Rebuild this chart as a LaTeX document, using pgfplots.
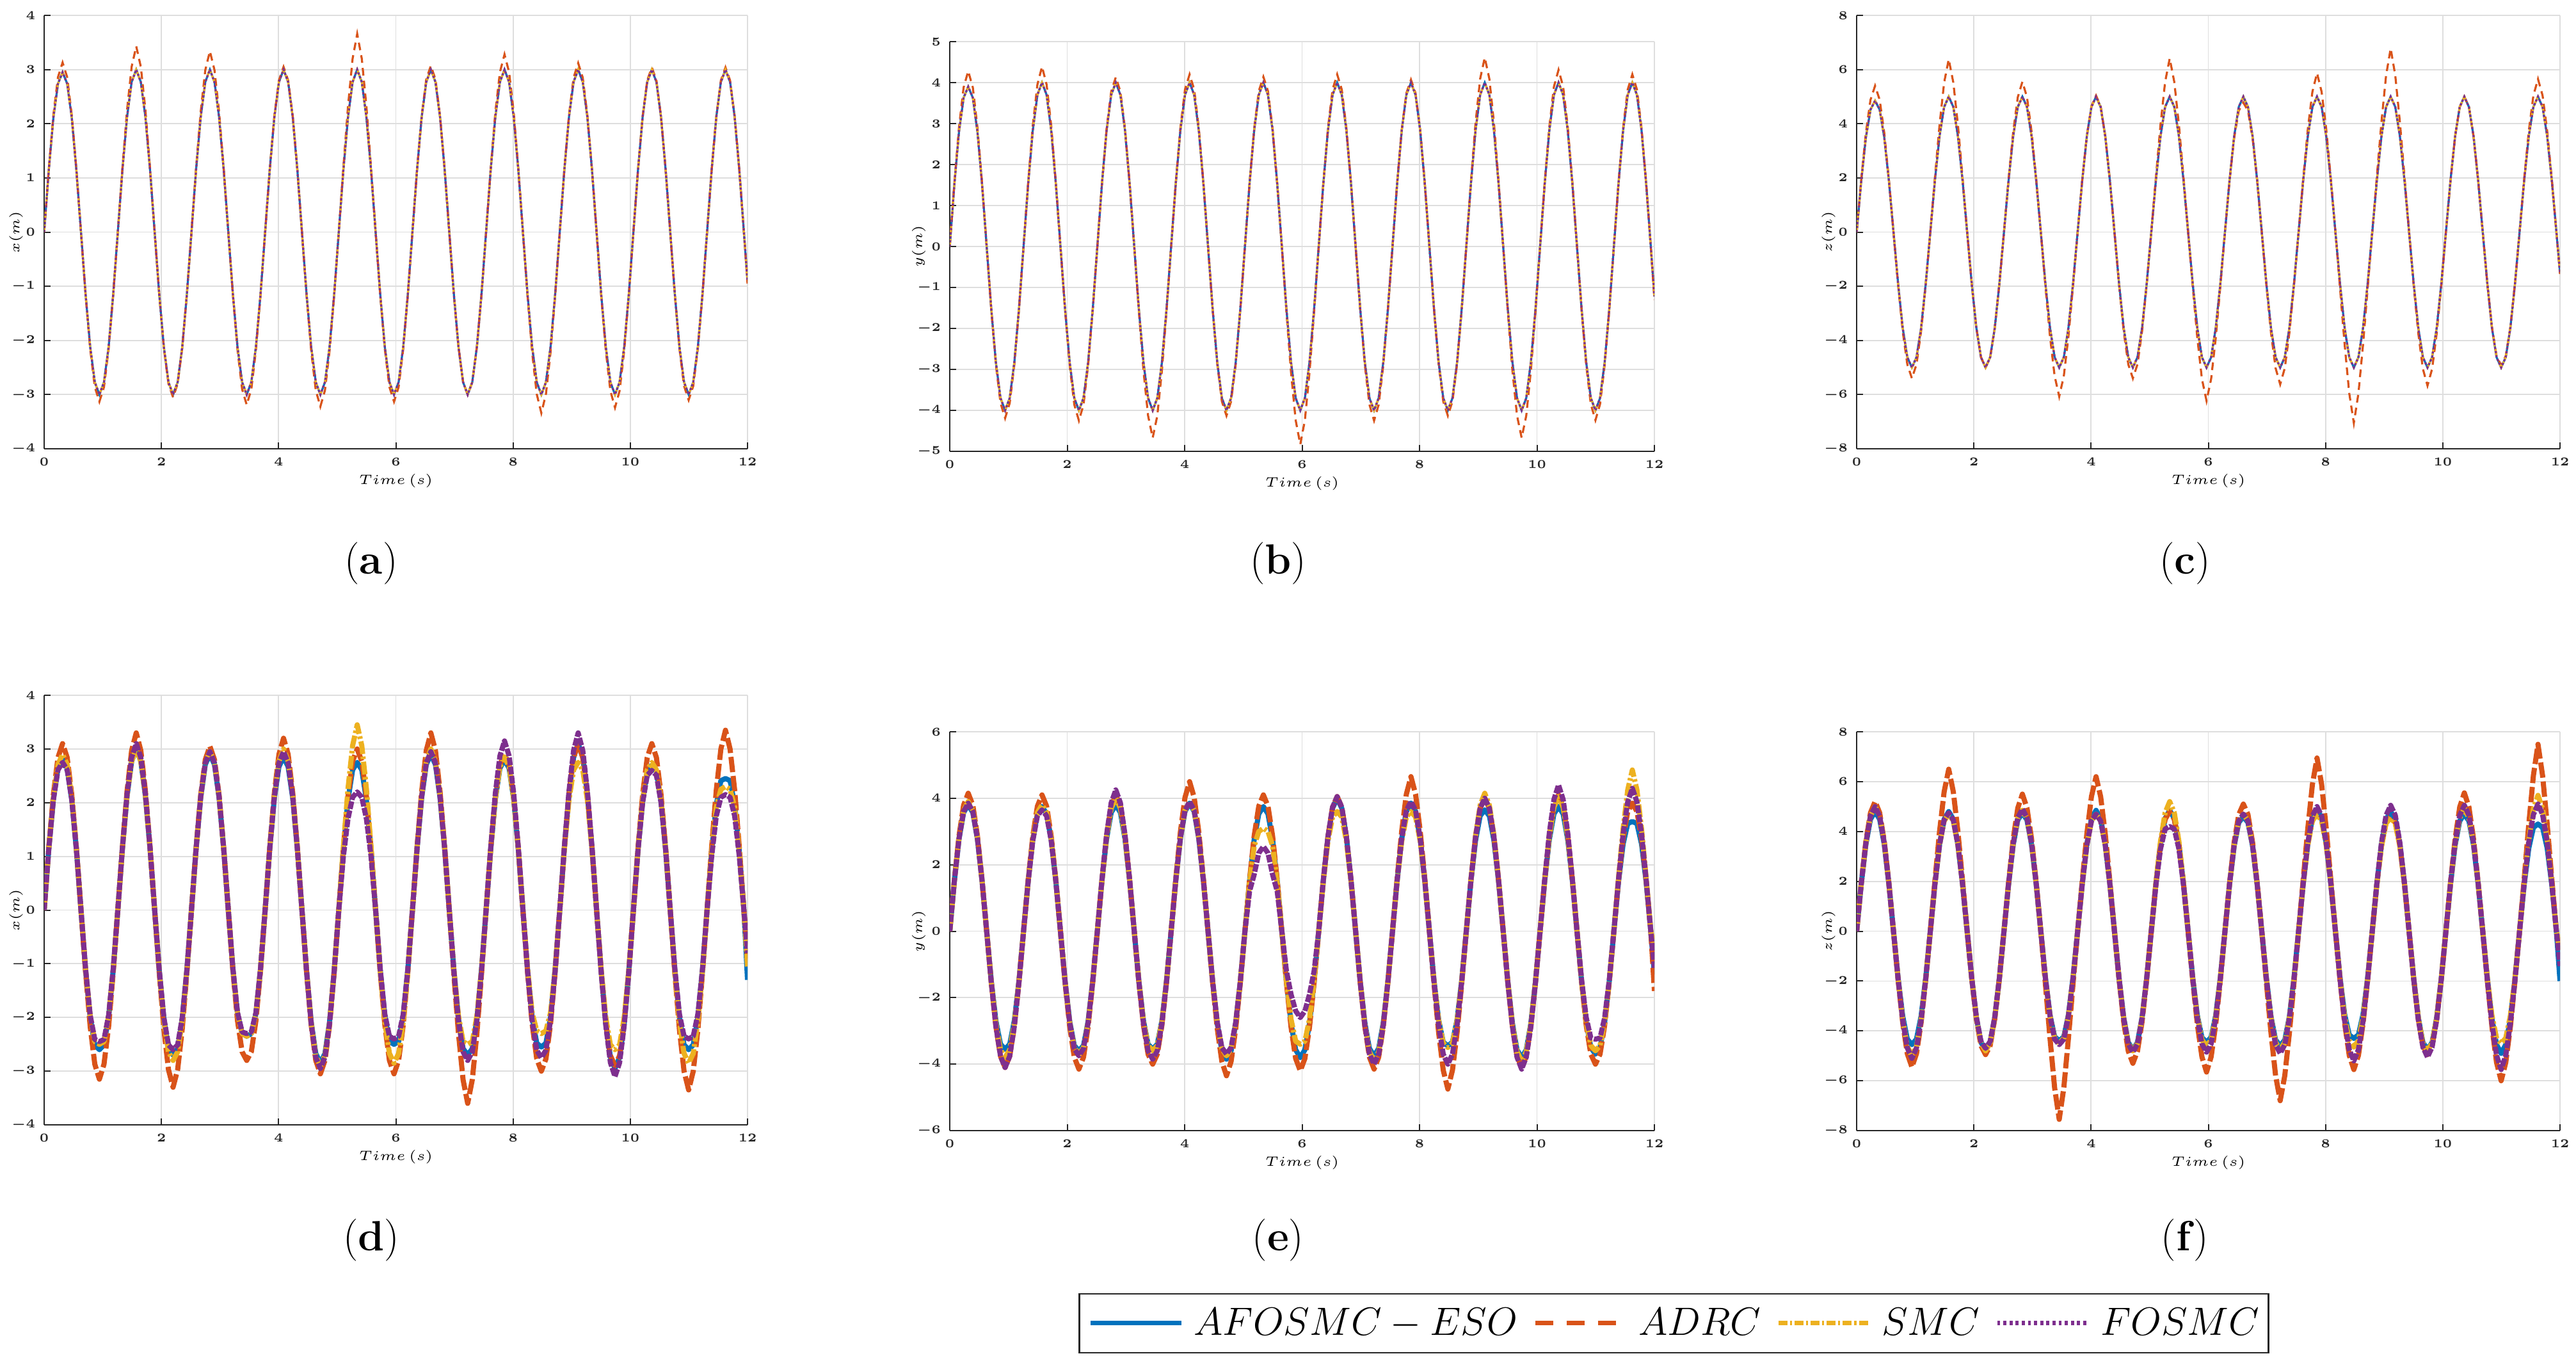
\RequirePackage{fix-cm}
\documentclass[border=0pt]{standalone}
\usepackage{pgfplots}
\usepackage{pgfplotstable}
\pgfplotsset{compat=1.18}
\definecolor{mblue}{rgb}{0,0.447,0.741}
\definecolor{mred}{rgb}{0.85,0.325,0.098}
\definecolor{myel}{rgb}{0.929,0.694,0.125}
\definecolor{mpur}{rgb}{0.494,0.184,0.556}
\definecolor{gridc}{rgb}{0.87,0.87,0.87}
\definecolor{axc}{rgb}{0.15,0.15,0.15}

\pgfplotstableread{
t ar aa br ba cr ca d1 d2 d3 d4 e1 e2 e3 e4 f1 f2 f3 f4
0 0 0 0 0 0 0 0 0 0 0 0 0 0 0 0 0 0 0
0.0785 1.14 1.16 1.52 1.55 1.90 1.95 1.13 1.16 1.14 1.13 1.52 1.54 1.52 1.52 1.90 1.93 1.91 1.91
0.1571 2.11 2.16 2.80 2.91 3.49 3.66 2.06 2.15 2.09 2.05 2.77 2.87 2.80 2.78 3.48 3.60 3.54 3.54
0.2356 2.74 2.86 3.63 3.88 4.52 4.88 2.64 2.84 2.71 2.61 3.57 3.79 3.63 3.60 4.49 4.75 4.62 4.62
0.3142 2.95 3.13 3.90 4.28 4.85 5.40 2.80 3.10 2.90 2.75 3.80 4.15 3.90 3.85 4.80 5.20 5.00 5.00
0.3927 2.74 2.86 3.63 3.88 4.52 4.88 2.64 2.84 2.71 2.61 3.57 3.79 3.63 3.60 4.49 4.75 4.62 4.62
0.4712 2.11 2.16 2.80 2.91 3.49 3.66 2.06 2.15 2.09 2.05 2.77 2.87 2.80 2.78 3.48 3.60 3.54 3.54
0.5498 1.14 1.16 1.52 1.55 1.90 1.95 1.13 1.16 1.14 1.13 1.52 1.54 1.52 1.52 1.90 1.93 1.91 1.91
0.6283 0 0 0 0 0 0 0 0 0 0 0 0 0 0 0 0 0 0
0.7069 -1.15 -1.16 -1.53 -1.55 -1.91 -1.95 -1.12 -1.16 -1.11 -1.10 -1.50 -1.54 -1.52 -1.54 -1.88 -1.95 -1.91 -1.92
0.7854 -2.12 -2.16 -2.83 -2.89 -3.54 -3.66 -2.00 -2.17 -1.97 -1.96 -2.69 -2.86 -2.77 -2.86 -3.40 -3.67 -3.54 -3.57
0.8639 -2.77 -2.86 -3.70 -3.82 -4.62 -4.88 -2.51 -2.87 -2.45 -2.41 -3.40 -3.76 -3.57 -3.76 -4.33 -4.91 -4.62 -4.68
0.9425 -3.00 -3.13 -4.00 -4.19 -5.00 -5.40 -2.60 -3.15 -2.50 -2.45 -3.55 -4.10 -3.80 -4.10 -4.55 -5.45 -5.00 -5.10
1.0210 -2.77 -2.86 -3.70 -3.82 -4.62 -4.88 -2.51 -2.87 -2.45 -2.41 -3.40 -3.76 -3.57 -3.76 -4.33 -4.91 -4.62 -4.68
1.0996 -2.12 -2.16 -2.83 -2.89 -3.54 -3.66 -2.00 -2.17 -1.97 -1.96 -2.69 -2.86 -2.77 -2.86 -3.40 -3.67 -3.54 -3.57
1.1781 -1.15 -1.16 -1.53 -1.55 -1.91 -1.95 -1.12 -1.16 -1.11 -1.10 -1.50 -1.54 -1.52 -1.54 -1.88 -1.95 -1.91 -1.92
1.2566 0 0 0 0 0 0 0 0 0 0 0 0 0 0 0 0 0 0
1.3352 1.15 1.18 1.53 1.56 1.91 2.02 1.15 1.17 1.15 1.16 1.51 1.54 1.52 1.50 1.90 2.03 1.89 1.89
1.4137 2.12 2.25 2.83 2.95 3.54 3.95 2.12 2.21 2.12 2.15 2.75 2.86 2.77 2.72 3.48 3.99 3.45 3.46
1.4923 2.77 3.05 3.70 3.95 4.62 5.52 2.77 2.97 2.77 2.84 3.53 3.76 3.57 3.47 4.49 5.59 4.42 4.46
1.5708 3.00 3.43 4.00 4.39 5.00 6.38 3.00 3.30 3.00 3.10 3.75 4.10 3.80 3.65 4.80 6.50 4.70 4.75
1.6493 2.77 3.05 3.70 3.95 4.62 5.52 2.77 2.97 2.77 2.84 3.53 3.76 3.57 3.47 4.49 5.59 4.42 4.46
1.7279 2.12 2.25 2.83 2.95 3.54 3.95 2.12 2.21 2.12 2.15 2.75 2.86 2.77 2.72 3.48 3.99 3.45 3.46
1.8064 1.15 1.18 1.53 1.56 1.91 2.02 1.15 1.17 1.15 1.16 1.51 1.54 1.52 1.50 1.90 2.03 1.89 1.89
1.8850 0 0 0 0 0 0 0 0 0 0 0 0 0 0 0 0 0 0
1.9635 -1.15 -1.15 -1.53 -1.55 -1.91 -1.91 -1.12 -1.17 -1.13 -1.12 -1.50 -1.54 -1.51 -1.51 -1.89 -1.91 -1.90 -1.89
2.0420 -2.12 -2.14 -2.83 -2.90 -3.54 -3.54 -2.03 -2.21 -2.06 -2.00 -2.71 -2.87 -2.74 -2.75 -3.46 -3.52 -3.48 -3.45
2.1206 -2.77 -2.80 -3.70 -3.86 -4.62 -4.62 -2.58 -2.97 -2.64 -2.51 -3.44 -3.79 -3.50 -3.53 -4.46 -4.59 -4.49 -4.42
2.1991 -3.00 -3.05 -4.00 -4.25 -5.00 -5.00 -2.70 -3.30 -2.80 -2.60 -3.60 -4.15 -3.70 -3.75 -4.75 -4.95 -4.80 -4.70
2.2777 -2.77 -2.80 -3.70 -3.86 -4.62 -4.62 -2.58 -2.97 -2.64 -2.51 -3.44 -3.79 -3.50 -3.53 -4.46 -4.59 -4.49 -4.42
2.3562 -2.12 -2.14 -2.83 -2.90 -3.54 -3.54 -2.03 -2.21 -2.06 -2.00 -2.71 -2.87 -2.74 -2.75 -3.46 -3.52 -3.48 -3.45
2.4347 -1.15 -1.15 -1.53 -1.55 -1.91 -1.91 -1.12 -1.17 -1.13 -1.12 -1.50 -1.54 -1.51 -1.51 -1.89 -1.91 -1.90 -1.89
2.5133 0 0 0 0 0 0 0 0 0 0 0 0 0 0 0 0 0 0
2.5918 1.15 1.18 1.53 1.54 1.91 1.96 1.14 1.15 1.14 1.14 1.52 1.54 1.53 1.55 1.89 1.95 1.90 1.91
2.6704 2.12 2.22 2.83 2.87 3.54 3.70 2.09 2.14 2.11 2.11 2.77 2.86 2.83 2.90 3.46 3.69 3.49 3.51
2.7489 2.77 2.99 3.70 3.78 4.62 4.98 2.71 2.80 2.74 2.74 3.57 3.76 3.70 3.86 4.46 4.94 4.52 4.55
2.8274 3.00 3.34 4.00 4.13 5.00 5.55 2.90 3.05 2.95 2.95 3.80 4.10 4.00 4.25 4.75 5.50 4.85 4.90
2.9060 2.77 2.99 3.70 3.78 4.62 4.98 2.71 2.80 2.74 2.74 3.57 3.76 3.70 3.86 4.46 4.94 4.52 4.55
2.9845 2.12 2.22 2.83 2.87 3.54 3.70 2.09 2.14 2.11 2.11 2.77 2.86 2.83 2.90 3.46 3.69 3.49 3.51
3.0631 1.15 1.18 1.53 1.54 1.91 1.96 1.14 1.15 1.14 1.14 1.52 1.54 1.53 1.55 1.89 1.95 1.90 1.91
3.1416 0 0 0 0 0 0 0 0 0 0 0 0 0 0 0 0 0 0
3.2201 -1.15 -1.16 -1.53 -1.58 -1.91 -2.00 -1.10 -1.13 -1.10 -1.09 -1.50 -1.53 -1.50 -1.52 -1.87 -2.12 -1.87 -1.88
3.2987 -2.12 -2.18 -2.83 -3.03 -3.54 -3.86 -1.93 -2.06 -1.93 -1.91 -2.69 -2.83 -2.71 -2.78 -3.36 -4.30 -3.39 -3.40
3.3772 -2.77 -2.90 -3.70 -4.13 -4.62 -5.31 -2.30 -2.64 -2.30 -2.27 -3.40 -3.70 -3.44 -3.60 -4.23 -6.28 -4.29 -4.33
3.4558 -3.00 -3.19 -4.00 -4.67 -5.00 -6.07 -2.35 -2.80 -2.35 -2.30 -3.55 -4.00 -3.60 -3.85 -4.40 -7.55 -4.50 -4.55
3.5343 -2.77 -2.90 -3.70 -4.13 -4.62 -5.31 -2.30 -2.64 -2.30 -2.27 -3.40 -3.70 -3.44 -3.60 -4.23 -6.28 -4.29 -4.33
3.6128 -2.12 -2.18 -2.83 -3.03 -3.54 -3.86 -1.93 -2.06 -1.93 -1.91 -2.69 -2.83 -2.71 -2.78 -3.36 -4.30 -3.39 -3.40
3.6914 -1.15 -1.16 -1.53 -1.58 -1.91 -2.00 -1.10 -1.13 -1.10 -1.09 -1.50 -1.53 -1.50 -1.52 -1.87 -2.12 -1.87 -1.88
3.7699 0 0 0 0 0 0 0 0 0 0 0 0 0 0 0 0 0 0
3.8485 1.15 1.15 1.53 1.55 1.91 1.92 1.14 1.16 1.15 1.14 1.52 1.57 1.52 1.52 1.90 2.01 1.89 1.89
3.9270 2.12 2.14 2.83 2.89 3.54 3.55 2.08 2.18 2.12 2.11 2.78 2.98 2.80 2.80 3.49 3.90 3.45 3.45
4.0055 2.77 2.80 3.70 3.83 4.62 4.65 2.67 2.90 2.77 2.74 3.60 4.02 3.63 3.63 4.52 5.40 4.42 4.42
4.0841 3.00 3.05 4.00 4.20 5.00 5.04 2.85 3.20 3.00 2.95 3.85 4.50 3.90 3.90 4.85 6.20 4.70 4.70
4.1626 2.77 2.80 3.70 3.83 4.62 4.65 2.67 2.90 2.77 2.74 3.60 4.02 3.63 3.63 4.52 5.40 4.42 4.42
4.2412 2.12 2.14 2.83 2.89 3.54 3.55 2.08 2.18 2.12 2.11 2.78 2.98 2.80 2.80 3.49 3.90 3.45 3.45
4.3197 1.15 1.15 1.53 1.55 1.91 1.92 1.14 1.16 1.15 1.14 1.52 1.57 1.52 1.52 1.90 2.01 1.89 1.89
4.3982 0 0 0 0 0 0 0 0 0 0 0 0 0 0 0 0 0 0
4.4768 -1.15 -1.17 -1.53 -1.54 -1.91 -1.95 -1.14 -1.15 -1.14 -1.14 -1.52 -1.56 -1.51 -1.51 -1.89 -1.94 -1.90 -1.90
4.5553 -2.12 -2.19 -2.83 -2.87 -3.54 -3.66 -2.08 -2.14 -2.09 -2.11 -2.78 -2.93 -2.75 -2.74 -3.46 -3.63 -3.48 -3.49
4.6339 -2.77 -2.92 -3.70 -3.78 -4.62 -4.88 -2.67 -2.80 -2.71 -2.74 -3.60 -3.92 -3.53 -3.50 -4.46 -4.81 -4.49 -4.52
4.7124 -3.00 -3.22 -4.00 -4.13 -5.00 -5.40 -2.85 -3.05 -2.90 -2.95 -3.85 -4.35 -3.75 -3.70 -4.75 -5.30 -4.80 -4.85
4.7909 -2.77 -2.92 -3.70 -3.78 -4.62 -4.88 -2.67 -2.80 -2.71 -2.74 -3.60 -3.92 -3.53 -3.50 -4.46 -4.81 -4.49 -4.52
4.8695 -2.12 -2.19 -2.83 -2.87 -3.54 -3.66 -2.08 -2.14 -2.09 -2.11 -2.78 -2.93 -2.75 -2.74 -3.46 -3.63 -3.48 -3.49
4.9480 -1.15 -1.17 -1.53 -1.54 -1.91 -1.95 -1.14 -1.15 -1.14 -1.14 -1.52 -1.56 -1.51 -1.51 -1.89 -1.94 -1.90 -1.90
5.0265 0 0 0 0 0 0 0 0 0 0 0 0 0 0 0 0 0 0
5.1051 1.15 1.20 1.53 1.54 1.91 2.03 1.13 1.15 1.18 1.00 1.51 1.54 1.46 1.20 1.90 1.90 1.93 1.85
5.1836 2.12 2.32 2.83 2.87 3.54 3.96 2.05 2.12 2.26 1.70 2.75 2.86 2.56 1.70 3.49 3.48 3.60 3.30
5.2622 2.77 3.20 3.70 3.79 4.62 5.54 2.61 2.77 3.06 2.10 3.53 3.76 3.00 2.35 4.52 4.49 4.75 4.10
5.3407 3.00 3.66 4.00 4.14 5.00 6.41 2.75 3.00 3.45 2.20 3.75 4.10 3.10 2.55 4.85 4.80 5.20 4.20
5.4192 2.77 3.20 3.70 3.79 4.62 5.54 2.61 2.77 3.06 2.10 3.53 3.76 3.00 2.35 4.52 4.49 4.75 4.10
5.4978 2.12 2.32 2.83 2.87 3.54 3.96 2.05 2.12 2.26 1.70 2.75 2.86 2.56 1.70 3.49 3.48 3.60 3.30
5.5763 1.15 1.20 1.53 1.54 1.91 2.03 1.13 1.15 1.18 1.00 1.51 1.54 1.46 1.20 1.90 1.90 1.93 1.85
5.6549 0 0 0 0 0 0 0 0 0 0 0 0 0 0 0 0 0 0
5.7334 -1.15 -1.16 -1.53 -1.60 -1.91 -2.01 -1.11 -1.15 -1.14 -1.10 -1.52 -1.55 -1.48 -1.20 -1.87 -1.97 -1.88 -1.90
5.8119 -2.12 -2.16 -2.83 -3.08 -3.54 -3.91 -1.97 -2.14 -2.08 -1.94 -2.77 -2.89 -2.65 -1.90 -3.37 -3.73 -3.42 -3.49
5.8905 -2.77 -2.86 -3.70 -4.24 -4.62 -5.42 -2.45 -2.80 -2.67 -2.35 -3.57 -3.83 -3.31 -2.40 -4.26 -5.04 -4.36 -4.52
5.9690 -3.00 -3.13 -4.00 -4.83 -5.00 -6.23 -2.50 -3.05 -2.85 -2.40 -3.80 -4.20 -3.40 -2.60 -4.45 -5.65 -4.60 -4.85
6.0476 -2.77 -2.86 -3.70 -4.24 -4.62 -5.42 -2.45 -2.80 -2.67 -2.35 -3.57 -3.83 -3.31 -2.40 -4.26 -5.04 -4.36 -4.52
6.1261 -2.12 -2.16 -2.83 -3.08 -3.54 -3.91 -1.97 -2.14 -2.08 -1.94 -2.77 -2.89 -2.65 -1.90 -3.37 -3.73 -3.42 -3.49
6.2046 -1.15 -1.16 -1.53 -1.60 -1.91 -2.01 -1.11 -1.15 -1.14 -1.10 -1.52 -1.55 -1.48 -1.20 -1.87 -1.97 -1.88 -1.90
6.2832 0 0 0 0 0 0 0 0 0 0 0 0 0 0 0 0 0 0
6.3617 1.15 1.15 1.53 1.55 1.91 1.90 1.14 1.17 1.15 1.14 1.53 1.54 1.50 1.54 1.88 1.92 1.89 1.89
6.4403 2.12 2.14 2.83 2.89 3.54 3.47 2.09 2.21 2.12 2.11 2.83 2.84 2.71 2.84 3.42 3.57 3.45 3.45
6.5188 2.77 2.82 3.70 3.83 4.62 4.48 2.71 2.97 2.77 2.74 3.70 3.73 3.44 3.73 4.36 4.68 4.42 4.42
6.5973 3.00 3.07 4.00 4.20 5.00 4.78 2.90 3.30 3.00 2.95 4.00 4.05 3.60 4.05 4.60 5.10 4.70 4.70
6.6759 2.77 2.82 3.70 3.83 4.62 4.48 2.71 2.97 2.77 2.74 3.70 3.73 3.44 3.73 4.36 4.68 4.42 4.42
6.7544 2.12 2.14 2.83 2.89 3.54 3.47 2.09 2.21 2.12 2.11 2.83 2.84 2.71 2.84 3.42 3.57 3.45 3.45
6.8330 1.15 1.15 1.53 1.55 1.91 1.90 1.14 1.17 1.15 1.14 1.53 1.54 1.50 1.54 1.88 1.92 1.89 1.89
6.9115 0 0 0 0 0 0 0 0 0 0 0 0 0 0 0 0 0 0
6.9900 -1.15 -1.15 -1.53 -1.55 -1.91 -1.96 -1.12 -1.20 -1.11 -1.13 -1.51 -1.54 -1.52 -1.53 -1.88 -2.06 -1.89 -1.91
7.0686 -2.12 -2.12 -2.83 -2.90 -3.54 -3.72 -2.03 -2.30 -1.97 -2.06 -2.75 -2.87 -2.80 -2.83 -3.42 -4.08 -3.46 -3.51
7.1471 -2.77 -2.77 -3.70 -3.86 -4.62 -5.02 -2.58 -3.16 -2.45 -2.64 -3.53 -3.79 -3.63 -3.70 -4.36 -5.79 -4.46 -4.55
7.2257 -3.00 -3.00 -4.00 -4.25 -5.00 -5.62 -2.70 -3.60 -2.50 -2.80 -3.75 -4.15 -3.90 -4.00 -4.60 -6.80 -4.75 -4.90
7.3042 -2.77 -2.77 -3.70 -3.86 -4.62 -5.02 -2.58 -3.16 -2.45 -2.64 -3.53 -3.79 -3.63 -3.70 -4.36 -5.79 -4.46 -4.55
7.3827 -2.12 -2.12 -2.83 -2.90 -3.54 -3.72 -2.03 -2.30 -1.97 -2.06 -2.75 -2.87 -2.80 -2.83 -3.42 -4.08 -3.46 -3.51
7.4613 -1.15 -1.15 -1.53 -1.55 -1.91 -1.96 -1.12 -1.20 -1.11 -1.13 -1.51 -1.54 -1.52 -1.53 -1.88 -2.06 -1.89 -1.91
7.5398 0 0 0 0 0 0 0 0 0 0 0 0 0 0 0 0 0 0
7.6184 1.15 1.17 1.53 1.54 1.91 1.98 1.13 1.14 1.14 1.16 1.52 1.58 1.50 1.52 1.91 2.07 1.89 1.91
7.6969 2.12 2.21 2.83 2.85 3.54 3.80 2.06 2.09 2.08 2.17 2.78 3.02 2.71 2.80 3.51 4.12 3.45 3.54
7.7754 2.77 2.95 3.70 3.74 4.62 5.18 2.64 2.71 2.67 2.87 3.60 4.12 3.44 3.63 4.55 5.89 4.42 4.62
7.8540 3.00 3.28 4.00 4.07 5.00 5.87 2.80 2.90 2.85 3.15 3.85 4.65 3.60 3.90 4.90 6.95 4.70 5.00
7.9325 2.77 2.95 3.70 3.74 4.62 5.18 2.64 2.71 2.67 2.87 3.60 4.12 3.44 3.63 4.55 5.89 4.42 4.62
8.0111 2.12 2.21 2.83 2.85 3.54 3.80 2.06 2.09 2.08 2.17 2.78 3.02 2.71 2.80 3.51 4.12 3.45 3.54
8.0896 1.15 1.17 1.53 1.54 1.91 1.98 1.13 1.14 1.14 1.16 1.52 1.58 1.50 1.52 1.91 2.07 1.89 1.91
8.1681 0 0 0 0 0 0 0 0 0 0 0 0 0 0 0 0 0 0
8.2467 -1.15 -1.18 -1.53 -1.54 -1.91 -2.08 -1.11 -1.15 -1.09 -1.13 -1.49 -1.59 -1.49 -1.53 -1.86 -1.96 -1.89 -1.93
8.3252 -2.12 -2.22 -2.83 -2.87 -3.54 -4.15 -1.99 -2.12 -1.91 -2.05 -2.66 -3.05 -2.68 -2.83 -3.33 -3.70 -3.43 -3.60
8.4038 -2.77 -2.99 -3.70 -3.78 -4.62 -5.95 -2.48 -2.77 -2.25 -2.61 -3.34 -4.18 -3.37 -3.70 -4.16 -4.98 -4.39 -4.75
8.4823 -3.00 -3.34 -4.00 -4.13 -5.00 -7.05 -2.55 -3.00 -2.30 -2.75 -3.45 -4.75 -3.50 -4.00 -4.30 -5.55 -4.65 -5.20
8.5608 -2.77 -2.99 -3.70 -3.78 -4.62 -5.95 -2.48 -2.77 -2.25 -2.61 -3.34 -4.18 -3.37 -3.70 -4.16 -4.98 -4.39 -4.75
8.6394 -2.12 -2.22 -2.83 -2.87 -3.54 -4.15 -1.99 -2.12 -1.91 -2.05 -2.66 -3.05 -2.68 -2.83 -3.33 -3.70 -3.43 -3.60
8.7179 -1.15 -1.18 -1.53 -1.54 -1.91 -2.08 -1.11 -1.15 -1.09 -1.13 -1.49 -1.59 -1.49 -1.53 -1.86 -1.96 -1.89 -1.93
8.7965 0 0 0 0 0 0 0 0 0 0 0 0 0 0 0 0 0 0
8.8750 1.15 1.16 1.53 1.58 1.91 2.06 1.16 1.16 1.13 1.17 1.50 1.53 1.54 1.53 1.90 1.88 1.88 1.92
8.9535 2.12 2.16 2.83 3.01 3.54 4.07 2.15 2.15 2.05 2.21 2.72 2.83 2.87 2.83 3.48 3.42 3.40 3.55
9.0321 2.77 2.85 3.70 4.09 4.62 5.78 2.84 2.84 2.61 2.97 3.47 3.70 3.79 3.70 4.49 4.36 4.33 4.65
9.1106 3.00 3.12 4.00 4.61 5.00 6.78 3.10 3.10 2.75 3.30 3.65 4.00 4.15 4.00 4.80 4.60 4.55 5.05
9.1892 2.77 2.85 3.70 4.09 4.62 5.78 2.84 2.84 2.61 2.97 3.47 3.70 3.79 3.70 4.49 4.36 4.33 4.65
9.2677 2.12 2.16 2.83 3.01 3.54 4.07 2.15 2.15 2.05 2.21 2.72 2.83 2.87 2.83 3.48 3.42 3.40 3.55
9.3462 1.15 1.16 1.53 1.58 1.91 2.06 1.16 1.16 1.13 1.17 1.50 1.53 1.54 1.53 1.90 1.88 1.88 1.92
9.4248 0 0 0 0 0 0 0 0 0 0 0 0 0 0 0 0 0 0
9.5033 -1.15 -1.17 -1.53 -1.58 -1.91 -1.97 -1.14 -1.14 -1.12 -1.16 -1.52 -1.54 -1.52 -1.54 -1.89 -1.91 -1.90 -1.92
9.5819 -2.12 -2.19 -2.83 -3.03 -3.54 -3.74 -2.11 -2.09 -2.00 -2.15 -2.77 -2.86 -2.80 -2.87 -3.46 -3.52 -3.48 -3.55
9.6604 -2.77 -2.93 -3.70 -4.13 -4.62 -5.05 -2.74 -2.71 -2.51 -2.84 -3.57 -3.76 -3.63 -3.79 -4.46 -4.59 -4.49 -4.65
9.7389 -3.00 -3.24 -4.00 -4.67 -5.00 -5.67 -2.95 -2.90 -2.60 -3.10 -3.80 -4.10 -3.90 -4.15 -4.75 -4.95 -4.80 -5.05
9.8175 -2.77 -2.93 -3.70 -4.13 -4.62 -5.05 -2.74 -2.71 -2.51 -2.84 -3.57 -3.76 -3.63 -3.79 -4.46 -4.59 -4.49 -4.65
9.8960 -2.12 -2.19 -2.83 -3.03 -3.54 -3.74 -2.11 -2.09 -2.00 -2.15 -2.77 -2.86 -2.80 -2.87 -3.46 -3.52 -3.48 -3.55
9.9746 -1.15 -1.17 -1.53 -1.58 -1.91 -1.97 -1.14 -1.14 -1.12 -1.16 -1.52 -1.54 -1.52 -1.54 -1.89 -1.91 -1.90 -1.92
10.0531 0 0 0 0 0 0 0 0 0 0 0 0 0 0 0 0 0 0
10.1316 1.15 1.15 1.53 1.56 1.91 1.91 1.12 1.16 1.13 1.12 1.51 1.54 1.54 1.56 1.89 1.96 1.91 1.92
10.2102 2.12 2.13 2.83 2.92 3.54 3.54 2.03 2.15 2.05 2.00 2.75 2.86 2.84 2.95 3.45 3.70 3.51 3.55
10.2887 2.77 2.80 3.70 3.90 4.62 4.62 2.58 2.84 2.61 2.51 3.53 3.76 3.73 3.96 4.42 4.98 4.55 4.65
10.3673 3.00 3.04 4.00 4.31 5.00 5.00 2.70 3.10 2.75 2.60 3.75 4.10 4.05 4.40 4.70 5.55 4.90 5.05
10.4458 2.77 2.80 3.70 3.90 4.62 4.62 2.58 2.84 2.61 2.51 3.53 3.76 3.73 3.96 4.42 4.98 4.55 4.65
10.5243 2.12 2.13 2.83 2.92 3.54 3.54 2.03 2.15 2.05 2.00 2.75 2.86 2.84 2.95 3.45 3.70 3.51 3.55
10.6029 1.15 1.15 1.53 1.56 1.91 1.91 1.12 1.16 1.13 1.12 1.51 1.54 1.54 1.56 1.89 1.96 1.91 1.92
10.6814 0 0 0 0 0 0 0 0 0 0 0 0 0 0 0 0 0 0
10.7600 -1.15 -1.16 -1.53 -1.55 -1.91 -1.91 -1.12 -1.18 -1.14 -1.10 -1.51 -1.53 -1.50 -1.47 -1.91 -1.99 -1.87 -1.96
10.8385 -2.12 -2.15 -2.83 -2.90 -3.54 -3.51 -2.00 -2.23 -2.08 -1.94 -2.74 -2.83 -2.71 -2.60 -3.51 -3.84 -3.39 -3.70
10.9170 -2.77 -2.84 -3.70 -3.85 -4.62 -4.57 -2.51 -3.00 -2.67 -2.35 -3.50 -3.70 -3.44 -3.21 -4.55 -5.27 -4.29 -4.98
10.9956 -3.00 -3.10 -4.00 -4.24 -5.00 -4.92 -2.60 -3.35 -2.85 -2.40 -3.70 -4.00 -3.60 -3.25 -4.90 -6.00 -4.50 -5.55
11.0741 -2.77 -2.84 -3.70 -3.85 -4.62 -4.57 -2.51 -3.00 -2.67 -2.35 -3.50 -3.70 -3.44 -3.21 -4.55 -5.27 -4.29 -4.98
11.1527 -2.12 -2.15 -2.83 -2.90 -3.54 -3.51 -2.00 -2.23 -2.08 -1.94 -2.74 -2.83 -2.71 -2.60 -3.51 -3.84 -3.39 -3.70
11.2312 -1.15 -1.16 -1.53 -1.55 -1.91 -1.91 -1.12 -1.18 -1.14 -1.10 -1.51 -1.53 -1.50 -1.47 -1.91 -1.99 -1.87 -1.96
11.3097 0 0 0 0 0 0 0 0 0 0 0 0 0 0 0 0 0 0
11.3883 1.15 1.15 1.53 1.55 1.91 1.97 1.10 1.18 1.09 1.00 1.48 1.52 1.60 1.55 1.86 2.11 1.95 1.92
11.4668 2.12 2.13 2.83 2.89 3.54 3.73 1.96 2.23 1.91 1.75 2.62 2.78 3.08 2.92 3.33 4.29 3.67 3.57
11.5454 2.77 2.80 3.70 3.83 4.62 5.04 2.41 3.00 2.25 2.10 3.24 3.60 4.25 3.89 4.16 6.24 4.91 4.68
11.6239 3.00 3.04 4.00 4.20 5.00 5.65 2.45 3.35 2.30 2.15 3.30 3.85 4.85 4.30 4.30 7.50 5.45 5.10
11.7024 2.77 2.80 3.70 3.83 4.62 5.04 2.41 3.00 2.25 2.10 3.24 3.60 4.25 3.89 4.16 6.24 4.91 4.68
11.7810 2.12 2.13 2.83 2.89 3.54 3.73 1.96 2.23 1.91 1.75 2.62 2.78 3.08 2.92 3.33 4.29 3.67 3.57
11.8595 1.15 1.15 1.53 1.55 1.91 1.97 1.10 1.18 1.09 1.00 1.48 1.52 1.60 1.55 1.86 2.11 1.95 1.92
11.9381 0 0 0 0 0 0 0 0 0 0 0 0 0 0 0 0 0 0
12 -0.91 -0.95 -1.22 -1.30 -1.52 -1.55 -1.30 -0.90 -1.05 -0.80 -1.30 -1.80 -0.50 -1.10 -2.00 -0.90 -0.80 -1.40
}\T

\pgfplotsset{
  base/.style={scale only axis, anchor=south west, xmin=0, xmax=12, xtick={0,2,...,12},
    axis x line*=bottom, axis y line*=left, grid=major,
    major grid style={line width=0.45pt, draw=gridc},
    axis line style={line width=0.5pt, draw=axc, -},
    tick align=inside, major tick length=2.5pt,
    every tick/.style={line width=0.5pt, draw=axc},
    tick label style={font=\fontsize{4.7}{5}\selectfont\boldmath, text=axc},
    xlabel={$Time\,(s)$},
    label style={font=\fontsize{5.3}{6}\selectfont},
    xlabel style={yshift=3.5pt},
    ylabel style={at={(axis description cs:-0.04,0.5)}, anchor=center, rotate=0}},
  tb/.style={mblue, solid, line width=0.8pt},
  tr/.style={mred, dash pattern=on 3pt off 2pt, line width=0.8pt},
  ty/.style={myel, dash pattern=on 3pt off 1pt on 0.6pt off 1pt, line width=0.8pt},
  tp/.style={mpur, dash pattern=on 0.8pt off 0.8pt, line width=0.8pt},
  bb/.style={mblue, solid, line width=2pt, line join=round},
  br/.style={mred, dash pattern=on 6pt off 1.5pt, line width=2pt, line join=round},
  by/.style={myel, dash pattern=on 5pt off 1pt on 1pt off 1pt, line width=2pt, line join=round},
  bp/.style={mpur, dash pattern=on 3pt off 0.6pt, line width=2pt, line join=round},
}

\begin{document}
\begin{tikzpicture}
\path[use as bounding box] (0,0) rectangle (1006.25pt,-532.25pt);

% (a)
\begin{axis}[base, at={(17.25pt,-175.25pt)}, width=274.75pt, height=169.25pt,
  ymin=-4, ymax=4, ytick={-4,-3,...,4}, ylabel={$x(m)$}]
\addplot[tb] table[x=t,y=ar]{\T};
\addplot[tr] table[x=t,y=aa]{\T};
\addplot[ty] table[x=t,y=ar]{\T};
\addplot[tp] table[x=t,y=ar]{\T};
\end{axis}

% (b)
\begin{axis}[base, at={(371pt,-176.25pt)}, width=275.25pt, height=160pt,
  ymin=-5, ymax=5, ytick={-5,-4,...,5}, ylabel={$y(m)$},
  ylabel style={at={(axis description cs:-0.044,0.5)}}]
\addplot[tb] table[x=t,y=br]{\T};
\addplot[tr] table[x=t,y=ba]{\T};
\addplot[ty] table[x=t,y=br]{\T};
\addplot[tp] table[x=t,y=br]{\T};
\end{axis}

% (c)
\begin{axis}[base, at={(725.25pt,-175.25pt)}, width=274.75pt, height=169.25pt,
  ymin=-8, ymax=8, ytick={-8,-6,...,8}, ylabel={$z(m)$}]
\addplot[tb] table[x=t,y=cr]{\T};
\addplot[tr] table[x=t,y=ca]{\T};
\addplot[ty] table[x=t,y=cr]{\T};
\addplot[tp] table[x=t,y=cr]{\T};
\end{axis}

% (d)
\begin{axis}[base, at={(17.25pt,-439.25pt)}, width=274.75pt, height=167.75pt,
  ymin=-4, ymax=4, ytick={-4,-3,...,4}, ylabel={$x(m)$}]
\addplot[bb] table[x=t,y=d1]{\T};
\addplot[br] table[x=t,y=d2]{\T};
\addplot[by] table[x=t,y=d3]{\T};
\addplot[bp] table[x=t,y=d4]{\T};
\end{axis}

% (e)
\begin{axis}[base, at={(371pt,-441.5pt)}, width=275.25pt, height=155.75pt,
  ymin=-6, ymax=6, ytick={-6,-4,...,6}, ylabel={$y(m)$},
  ylabel style={at={(axis description cs:-0.044,0.5)}},
  legend columns=4,
  legend style={at={(1.0277,-0.4831)}, anchor=center, draw=black!85, line width=0.6pt,
    fill=white, font=\fontsize{15.4}{18}\selectfont, inner xsep=3.5pt, inner ysep=5.5pt,
    nodes={inner sep=0pt},
    /tikz/every odd column/.append style={column sep=4pt},
    /tikz/every even column/.append style={column sep=6pt}},
  legend image code/.code={\draw[#1] (0pt,0pt) -- (35.5pt,0pt);}]
\addlegendimage{mblue, solid, line width=1.75pt}
\addlegendentry{$AFOSMC-ESO$}
\addlegendimage{mred, dash pattern=on 7pt off 5.25pt, line width=1.75pt}
\addlegendentry{$ADRC$}
\addlegendimage{myel, dash pattern=on 3.5pt off 1pt on 0.8pt off 1pt, line width=1.75pt}
\addlegendentry{$SMC$}
\addlegendimage{mpur, dash pattern=on 1.2pt off 1.2pt, line width=1.75pt}
\addlegendentry{$FOSMC$}
\addplot[bb, forget plot] table[x=t,y=e1]{\T};
\addplot[br, forget plot] table[x=t,y=e2]{\T};
\addplot[by, forget plot] table[x=t,y=e3]{\T};
\addplot[bp, forget plot] table[x=t,y=e4]{\T};
\end{axis}

% (f)
\begin{axis}[base, at={(725.25pt,-441.5pt)}, width=274.75pt, height=155.75pt,
  ymin=-8, ymax=8, ytick={-8,-6,...,8}, ylabel={$z(m)$}]
\addplot[bb] table[x=t,y=f1]{\T};
\addplot[br] table[x=t,y=f2]{\T};
\addplot[by] table[x=t,y=f3]{\T};
\addplot[bp] table[x=t,y=f4]{\T};
\end{axis}

\node[font=\fontsize{16.5}{18}\selectfont] at (145pt,-220pt) {(\textbf{a})};
\node[font=\fontsize{16.5}{18}\selectfont] at (499.25pt,-220pt) {(\textbf{b})};
\node[font=\fontsize{16.5}{18}\selectfont] at (853.5pt,-220pt) {(\textbf{c})};
\node[font=\fontsize{16.5}{18}\selectfont] at (145pt,-484.25pt) {(\textbf{d})};
\node[font=\fontsize{16.5}{18}\selectfont] at (499.25pt,-484.25pt) {(\textbf{e})};
\node[font=\fontsize{16.5}{18}\selectfont] at (853.5pt,-484.25pt) {(\textbf{f})};
\end{tikzpicture}
\end{document}
